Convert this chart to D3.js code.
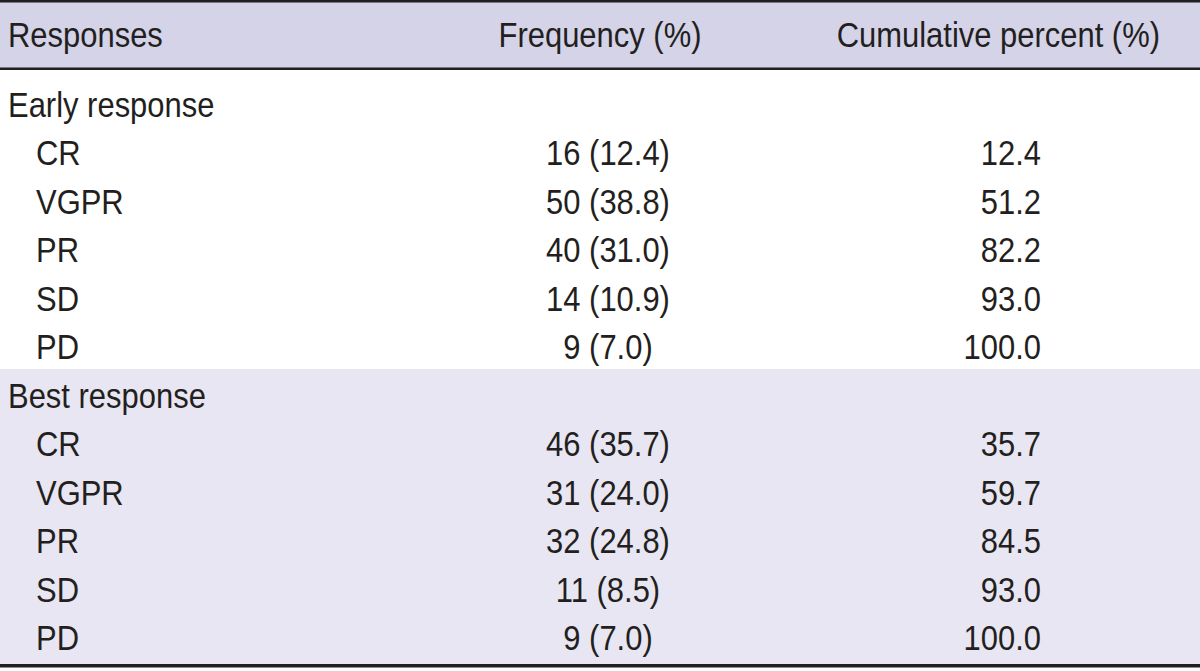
<!DOCTYPE html>
<html>
<head>
<meta charset="utf-8">
<script src="https://cdn.jsdelivr.net/npm/d3@7"></script>
<style>
  html, body { margin: 0; padding: 0; background: #fff; }
  svg { display: block; }
  text { font-family: "Liberation Sans", Arial, sans-serif; fill: #231f20; }
</style>
</head>
<body>
<svg id="chart" width="1200" height="671"></svg>
<script>
const headers = ["Responses", "Frequency (%)", "Cumulative percent (%)"];
const groups = ["Early response", "Best response"];
const categories = ["CR", "VGPR", "PR", "SD", "PD"];
const earlyCounts = [16, 50, 40, 14, 9];
const earlyPercents = [12.4, 38.8, 31.0, 10.9, 7.0];
const earlyCumulative = [12.4, 51.2, 82.2, 93.0, 100.0];
const bestCounts = [46, 31, 32, 11, 9];
const bestPercents = [35.7, 24.0, 24.8, 8.5, 7.0];
const bestCumulative = [35.7, 59.7, 84.5, 93.0, 100.0];

const W = 1200, H = 671;
const svg = d3.select("#chart");

const groupData = [
  {name: groups[0], counts: earlyCounts, pct: earlyPercents, cum: earlyCumulative},
  {name: groups[1], counts: bestCounts, pct: bestPercents, cum: bestCumulative}
];

const rows = [];
groupData.forEach((g, gi) => {
  rows.push({type: "group", label: g.name, gi});
  categories.forEach((c, i) => {
    rows.push({type: "item", label: c, gi, freq: `${g.counts[i]} (${g.pct[i].toFixed(1)})`, cum: g.cum[i].toFixed(1)});
  });
});

const y = d3.scaleLinear().domain([0, rows.length - 1]).range([117, 650]);
const fontSize = 36;
const sx = 0.86;

function put(g, x, yy, txt, anchor) {
  g.append("text")
    .attr("transform", `translate(${x},${yy}) scale(${sx},1)`)
    .attr("text-anchor", anchor || "start")
    .text(txt);
}

// Backgrounds
svg.append("rect").attr("x", 0).attr("y", 1).attr("width", W).attr("height", 68).attr("fill", "#d4d3e8");
svg.append("rect").attr("x", 0).attr("y", 369).attr("width", W).attr("height", 296).attr("fill", "#e8e6f2");

// Rules
svg.append("rect").attr("x", 0).attr("y", 0).attr("width", W).attr("height", 2.5).attr("fill", "#231f20");
svg.append("rect").attr("x", 0).attr("y", 67.5).attr("width", W).attr("height", 2.5).attr("fill", "#231f20");
svg.append("rect").attr("x", 0).attr("y", 664).attr("width", W).attr("height", 3.5).attr("fill", "#231f20");

// Header
const hdr = svg.append("g").attr("font-size", fontSize);
put(hdr, 8, 47, headers[0]);
put(hdr, 600, 47, headers[1], "middle");
put(hdr, 1160, 47, headers[2], "end");

// Body
const body = svg.append("g").attr("font-size", fontSize);
rows.forEach((r, i) => {
  const yy = y(i);
  if (r.type === "group") {
    put(body, 8, yy, r.label);
  } else {
    put(body, 36, yy, r.label);
    put(body, 608, yy, r.freq, "middle");
    put(body, 1041, yy, r.cum, "end");
  }
});
</script>
</body>
</html>
